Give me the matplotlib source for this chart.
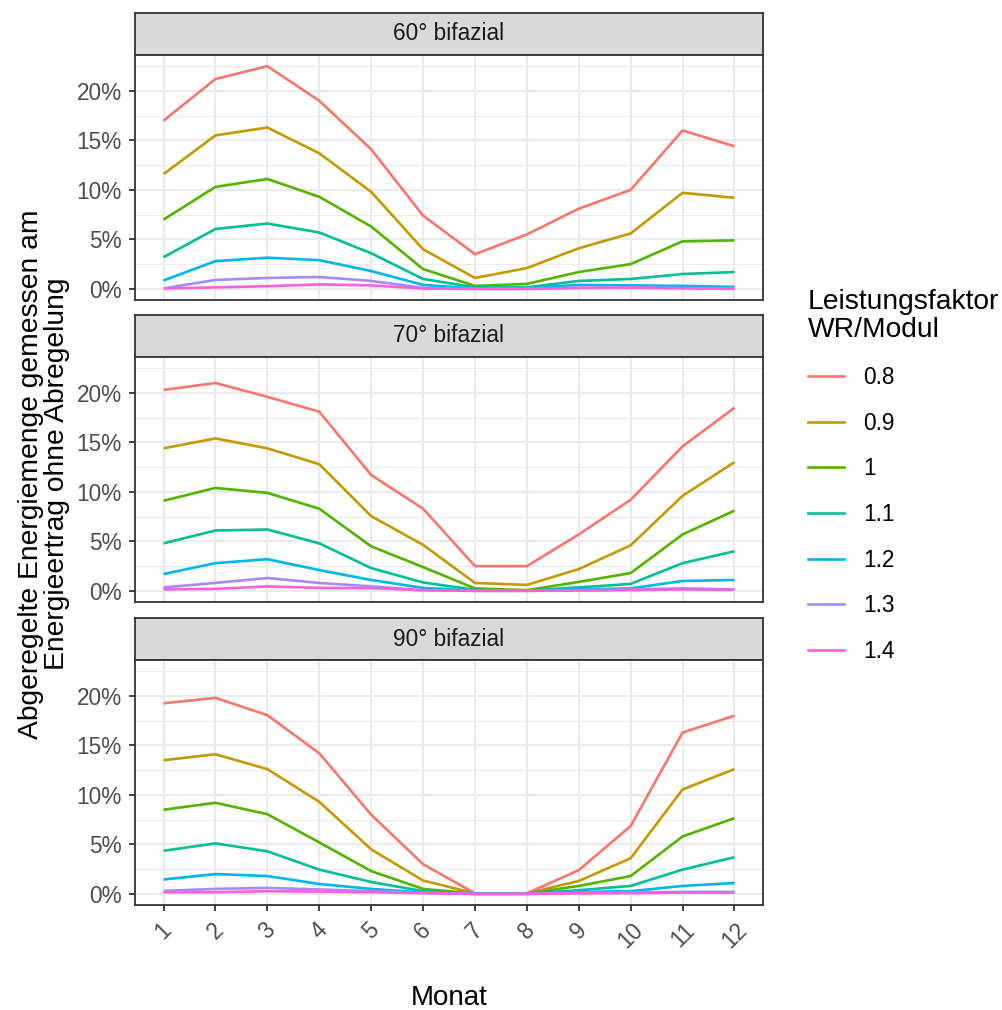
import numpy as np
import matplotlib.pyplot as plt
from matplotlib.lines import Line2D
from matplotlib.ticker import FuncFormatter, MultipleLocator

plt.rcParams['font.family'] = ['Liberation Sans', 'DejaVu Sans']

months = np.arange(1, 13)
factors = ["0.8", "0.9", "1", "1.1", "1.2", "1.3", "1.4"]
colors = ["#F8766D", "#C49A00", "#53B400", "#00C094", "#00B6EB", "#A58AFF", "#FB61D7"]
panels = ["60° bifazial", "70° bifazial", "90° bifazial"]

# curtailed energy share in %, one row per power factor
tilt60 = [
    [17.0, 21.2, 22.5, 19.0, 14.1, 7.4, 3.5, 5.5, 8.1, 10.0, 16.0, 14.4],
    [11.6, 15.5, 16.3, 13.7, 9.8, 4.0, 1.1, 2.1, 4.1, 5.6, 9.7, 9.2],
    [7.0, 10.3, 11.1, 9.3, 6.3, 2.0, 0.3, 0.5, 1.7, 2.5, 4.8, 4.9],
    [3.2, 6.05, 6.6, 5.7, 3.6, 1.0, 0.15, 0.15, 0.8, 1.0, 1.5, 1.7],
    [0.85, 2.8, 3.15, 2.9, 1.8, 0.4, 0.05, 0.1, 0.4, 0.35, 0.3, 0.2],
    [0.05, 0.9, 1.1, 1.2, 0.8, 0.1, 0.0, 0.0, 0.1, 0.15, 0.1, 0.05],
    [0.03, 0.15, 0.27, 0.45, 0.35, 0.03, 0.0, 0.0, 0.1, 0.1, 0.05, 0.0],
]
tilt70 = [
    [20.3, 21.0, 19.6, 18.1, 11.7, 8.3, 2.5, 2.5, 5.7, 9.2, 14.6, 18.5],
    [14.4, 15.4, 14.4, 12.8, 7.55, 4.65, 0.8, 0.6, 2.2, 4.6, 9.6, 13.0],
    [9.1, 10.4, 9.9, 8.3, 4.5, 2.4, 0.25, 0.07, 0.9, 1.8, 5.7, 8.1],
    [4.8, 6.1, 6.2, 4.8, 2.3, 0.85, 0.1, 0.03, 0.35, 0.7, 2.8, 4.0],
    [1.7, 2.8, 3.2, 2.1, 1.1, 0.3, 0.03, 0.03, 0.15, 0.25, 1.0, 1.1],
    [0.35, 0.8, 1.3, 0.8, 0.45, 0.07, 0.0, 0.0, 0.07, 0.15, 0.25, 0.15],
    [0.15, 0.2, 0.45, 0.3, 0.27, 0.07, 0.0, 0.0, 0.03, 0.07, 0.15, 0.1],
]
tilt90 = [
    [19.25, 19.8, 18.05, 14.2, 8.0, 3.0, 0.05, 0.05, 2.4, 6.85, 16.3, 18.0],
    [13.5, 14.1, 12.6, 9.3, 4.5, 1.35, 0.05, 0.05, 1.3, 3.6, 10.55, 12.6],
    [8.5, 9.2, 8.05, 5.2, 2.3, 0.5, 0.03, 0.03, 0.8, 1.8, 5.8, 7.65],
    [4.35, 5.1, 4.3, 2.45, 1.2, 0.27, 0.02, 0.02, 0.37, 0.8, 2.45, 3.7],
    [1.45, 2.0, 1.8, 1.0, 0.5, 0.13, 0.0, 0.0, 0.2, 0.27, 0.8, 1.1],
    [0.3, 0.5, 0.6, 0.45, 0.27, 0.1, 0.0, 0.0, 0.1, 0.13, 0.2, 0.2],
    [0.17, 0.17, 0.27, 0.23, 0.17, 0.07, 0.0, 0.0, 0.05, 0.07, 0.13, 0.13],
]
series = [tilt60, tilt70, tilt90]

W, H = 1003, 1010
fig = plt.figure(figsize=(W / 100, H / 100), dpi=100)

def box(x0, y0, x1, y1):
    return [x0 / W, 1 - y1 / H, (x1 - x0) / W, (y1 - y0) / H]

ymax = max(max(r) for s in series for r in s)
ylim = (-0.05 * ymax, 1.05 * ymax)
xlim = (1 - 0.05 * 11, 12 + 0.05 * 11)

strip_tops = [13, 315, 618]
strip_h = 42
panel_h = 245
left, right = 135, 763

for k, (name, data) in enumerate(zip(panels, series)):
    top = strip_tops[k]
    st = fig.add_axes(box(left, top, right, top + strip_h))
    st.set_facecolor("#D9D9D9")
    st.set_xticks([]); st.set_yticks([])
    for sp in st.spines.values():
        sp.set_color("#333333"); sp.set_linewidth(1.3)
    st.text(0.5, 0.5, name, ha="center", va="center", fontsize=16.3,
            color="#1A1A1A", transform=st.transAxes)

    ax = fig.add_axes(box(left, top + strip_h, right, top + strip_h + panel_h))
    for vals, c in zip(data, colors):
        ax.plot(months, vals, color=c, lw=1.9, solid_capstyle="butt")
    ax.set_xlim(*xlim); ax.set_ylim(*ylim)
    ax.yaxis.set_major_locator(MultipleLocator(5))
    ax.yaxis.set_minor_locator(MultipleLocator(2.5))
    ax.yaxis.set_major_formatter(FuncFormatter(lambda v, p: f"{v:.0f}%"))
    ax.set_xticks(months)
    ax.grid(which="major", color="#EBEBEB", lw=1.6)
    ax.grid(which="minor", axis="y", color="#EBEBEB", lw=0.8)
    ax.set_axisbelow(True)
    ax.tick_params(which="minor", length=0)
    ax.tick_params(which="major", length=4.5, width=1.3, color="#333333",
                   labelsize=16.3, labelcolor="#4D4D4D", pad=5)
    for sp in ax.spines.values():
        sp.set_color("#333333"); sp.set_linewidth(1.3)
    if k < 2:
        ax.tick_params(axis="x", length=0, labelbottom=False)
    else:
        for lab in ax.get_xticklabels():
            lab.set_rotation(45)
            lab.set_ha("center")

fig.text(449 / W, 1 - 998 / H, "Monat", ha="center", va="center", fontsize=20)
fig.text(44 / W, 1 - 474 / H,
         "Abgeregelte Energiemenge gemessen am\nEnergieertrag ohne Abregelung",
         ha="center", va="center", rotation=90, fontsize=20.3, linespacing=1.0)

handles = [Line2D([], [], color=c, lw=1.9) for c in colors]
leg = fig.legend(handles, factors, title="Leistungsfaktor\nWR/Modul",
                 loc="upper left", bbox_to_anchor=(808 / W, 1 - 289 / H),
                 frameon=False, fontsize=16.3, title_fontsize=20.3,
                 handlelength=1.6, handletextpad=0.85, labelspacing=1.0,
                 alignment="left", borderaxespad=0, borderpad=0)
leg.get_title().set_linespacing(1.12)

fig.savefig("out.png", dpi=100)
